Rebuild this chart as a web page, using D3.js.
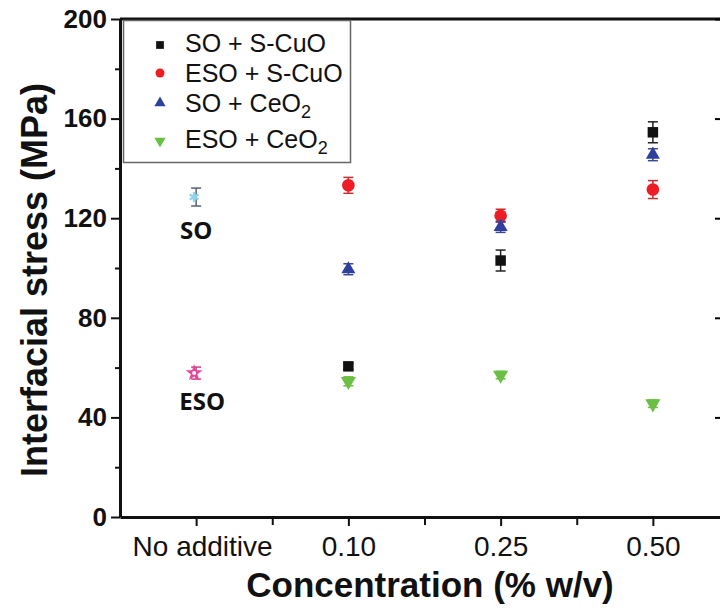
<!DOCTYPE html>
<html>
<head>
<meta charset="utf-8">
<script src="https://cdn.jsdelivr.net/npm/d3@7"></script>
<style>
    body { margin: 0; background: #fff; }
    text { fill: #111; }
</style>
</head>
<body>
<div id="stress"></div>
<script>
// categories on the x axis (positions 1..4)
const categories = ["No additive", "0.10", "0.25", "0.50"];
const yMajorTicks = [0, 40, 80, 120, 160, 200];
const yMinorTicks = [20, 60, 100, 140, 180];

// additive series, one value per concentration 0.10 / 0.25 / 0.50
const soCuOValues = [60.5, 103, 154.5];
const soCuOErrors = [1.2, 4.2, 4.2];
const esoCuOValues = [133.2, 121, 131.5];
const esoCuOErrors = [3.2, 2.6, 3.6];
const soCeO2Values = [99.5, 116.5, 145.5];
const soCeO2Errors = [2.2, 2.2, 2.4];
const esoCeO2Values = [54.5, 57, 45.5];
const esoCeO2Errors = [1.8, 1.5, 1.5];

// base oils without additive
const baseNames = ["SO", "ESO"];
const baseValues = [128.5, 57.8];
const baseErrors = [3.6, 2.4];

const stressWidth = 720;
const stressHeight = 608;
const stressMargin = {top: 19, left: 120, bottom: 91, right: -9};

const stressClipWidth = stressWidth - stressMargin.left - stressMargin.right;
const stressClipHeight = stressHeight - stressMargin.top - stressMargin.bottom;

const svg = d3.select("#stress").append("svg")
    .attr("width", stressWidth)
    .attr("height", stressHeight)
    .style("display", "block");

const stressSvg = svg.append('g')
    .attr("transform", "translate(" + stressMargin.left + "," + stressMargin.top + ")");

let xScale = d3.scaleLinear()
    .domain([0.5, 4.5])
    .range([0, stressClipWidth]);

let yScale = d3.scaleLinear()
    .domain([0, 200])
    .range([stressClipHeight, 0]);

// top frame line
stressSvg.append("line")
    .attr("x1", 0).attr("x2", stressClipWidth)
    .attr("y1", 0).attr("y2", 0)
    .attr("stroke", "#111")
    .attr("stroke-width", 3);

// right axis, ticks pointing inward
let rightAxis = stressSvg.append('g')
    .attr("transform", "translate(" + stressClipWidth + ",0)")
    .call(d3.axisRight(yScale).tickValues(yMajorTicks).tickSize(-14).tickSizeOuter(0).tickFormat(""));
rightAxis.select(".domain").attr("stroke-width", 3);
rightAxis.selectAll(".tick line").attr("stroke-width", 2);

// left axis
let yAxis = stressSvg.append('g')
    .attr("class", 'axis_y')
    .call(d3.axisLeft(yScale).tickValues(yMajorTicks).tickSize(9).tickSizeOuter(0).tickPadding(4));
yAxis.select(".domain").attr("stroke-width", 3).attr("stroke", "#111");
yAxis.selectAll(".tick line").attr("stroke-width", 2).attr("stroke", "#111");
yAxis.selectAll(".tick text")
    .attr("font-family", "Liberation Sans, Arial, sans-serif")
    .attr("font-size", 26)
    .attr("font-weight", "bold")
    .attr("fill", "#111");

let yMinor = stressSvg.append('g')
    .call(d3.axisLeft(yScale).tickValues(yMinorTicks).tickSize(5).tickFormat(""));
yMinor.select(".domain").remove();
yMinor.selectAll(".tick line").attr("stroke-width", 2).attr("stroke", "#111");

// bottom axis
let xAxis = stressSvg.append('g')
    .attr("class", 'axis_x')
    .attr("transform", "translate(0," + stressClipHeight + ")")
    .call(d3.axisBottom(xScale).tickValues([1, 2, 3, 4]).tickSize(9).tickSizeOuter(0).tickPadding(10)
        .tickFormat(d => categories[d - 1]));
xAxis.select(".domain").attr("stroke-width", 3).attr("stroke", "#111");
xAxis.selectAll(".tick line").attr("stroke-width", 2).attr("stroke", "#111");
xAxis.selectAll(".tick text")
    .attr("font-family", "Liberation Sans, Arial, sans-serif")
    .attr("font-size", 28)
    .attr("fill", "#111")
    .attr("dx", (d, i) => i === 0 ? 6 : 0);

let xMinor = stressSvg.append('g')
    .attr("transform", "translate(0," + stressClipHeight + ")")
    .call(d3.axisBottom(xScale).tickValues([1.5, 2.5, 3.5]).tickSize(8).tickFormat(""));
xMinor.select(".domain").remove();
xMinor.selectAll(".tick line").attr("stroke-width", 2).attr("stroke", "#111");

// axis titles
svg.append("text")
    .attr("transform", "translate(47," + (stressMargin.top + stressClipHeight / 2 + 12) + ") rotate(-90)")
    .attr("text-anchor", "middle")
    .attr("font-family", "Liberation Sans, Arial, sans-serif")
    .attr("font-size", 36)
    .attr("font-weight", "bold")
    .text("Interfacial stress (MPa)");

svg.append("text")
    .attr("x", 430)
    .attr("y", 597)
    .attr("text-anchor", "middle")
    .attr("font-family", "Liberation Sans, Arial, sans-serif")
    .attr("font-size", 35)
    .attr("font-weight", "bold")
    .text("Concentration (% w/v)");

// series definitions
const series = [
    {name: "SO + S-CuO", values: soCuOValues, errors: soCuOErrors, symbol: d3.symbolSquare, size: 110, legendSize: 60, rotate: 0, fill: "#111", bar: "#222"},
    {name: "ESO + S-CuO", values: esoCuOValues, errors: esoCuOErrors, symbol: d3.symbolCircle, size: 125, legendSize: 64, rotate: 0, fill: "#ee1c25", bar: "#c03030"},
    {name: "SO + CeO", sub: "2", values: soCeO2Values, errors: soCeO2Errors, symbol: d3.symbolTriangle, size: 85, legendSize: 55, rotate: 0, fill: "#2e3f9e", bar: "#3a4a90"},
    {name: "ESO + CeO", sub: "2", values: esoCeO2Values, errors: esoCeO2Errors, symbol: d3.symbolTriangle, size: 100, legendSize: 55, rotate: 180, fill: "#6cbf45", bar: "#6cbf45"}
];

function drawErrorBars(g, points, color, cap) {
    let bars = g.selectAll("g.err")
        .data(points)
        .enter()
        .append("g")
        .attr("class", "err")
        .attr("stroke", color)
        .attr("stroke-width", 1.5);
    bars.append("line")
        .attr("x1", d => xScale(d.x)).attr("x2", d => xScale(d.x))
        .attr("y1", d => yScale(d.y + d.e)).attr("y2", d => yScale(d.y - d.e));
    bars.append("line")
        .attr("x1", d => xScale(d.x) - cap).attr("x2", d => xScale(d.x) + cap)
        .attr("y1", d => yScale(d.y + d.e)).attr("y2", d => yScale(d.y + d.e));
    bars.append("line")
        .attr("x1", d => xScale(d.x) - cap).attr("x2", d => xScale(d.x) + cap)
        .attr("y1", d => yScale(d.y - d.e)).attr("y2", d => yScale(d.y - d.e));
}

let points_g = stressSvg.append('g').attr("class", 'points_g');

series.forEach(function (s) {
    let pts = s.values.map((v, i) => ({x: i + 2, y: v, e: s.errors[i]}));
    let g = points_g.append("g");
    drawErrorBars(g, pts, s.bar, 5);
    g.selectAll("path.mark")
        .data(pts)
        .enter()
        .append("path")
        .attr("class", "mark")
        .attr("d", d3.symbol().type(s.symbol).size(s.size))
        .attr("transform", d => "translate(" + xScale(d.x) + "," + yScale(d.y) + ") rotate(" + s.rotate + ")")
        .attr("fill", s.fill);
});

// base oils: SO (light blue asterisk) and ESO (pink hollow star)
let base_g = stressSvg.append('g').attr("class", 'base_g');
let basePts = baseValues.map((v, i) => ({x: 1, y: v, e: baseErrors[i], name: baseNames[i]}));

drawErrorBars(base_g.append("g"), [basePts[0]], "#556070", 5);
drawErrorBars(base_g.append("g"), [basePts[1]], "#d0407f", 5);

base_g.append("path")
    .attr("d", d3.symbol().type(d3.symbolAsterisk).size(70))
    .attr("transform", "translate(" + (xScale(1) - 2) + "," + yScale(basePts[0].y) + ")")
    .attr("fill", "none")
    .attr("stroke", "#8fd3ec")
    .attr("stroke-width", 2.5);

base_g.append("path")
    .attr("d", d3.symbol().type(d3.symbolStar).size(90))
    .attr("transform", "translate(" + (xScale(1) - 2) + "," + yScale(basePts[1].y) + ")")
    .attr("fill", "#e8449a");
base_g.append("circle")
    .attr("cx", xScale(1) - 2)
    .attr("cy", yScale(basePts[1].y))
    .attr("r", 2)
    .attr("fill", "#fff");

base_g.selectAll("text.base")
    .data(basePts)
    .enter()
    .append("text")
    .attr("class", "base")
    .attr("x", (d, i) => xScale(1) + (i === 0 ? 0 : 6))
    .attr("y", (d, i) => i === 0 ? yScale(d.y) + 42 : yScale(d.y) + 37)
    .attr("text-anchor", "middle")
    .attr("font-family", "Open Sans, Noto Sans, sans-serif")
    .attr("font-size", 24)
    .attr("font-weight", "bold")
    .text(d => d.name);

// legend
let legend = svg.append("g").attr("class", "legend");
legend.append("rect")
    .attr("x", 123.5).attr("y", 20.5)
    .attr("width", 227).attr("height", 142)
    .attr("fill", "#fff")
    .attr("stroke", "#666")
    .attr("stroke-width", 1.5);

const legendMarkY = [45, 73, 103, 141];
const legendTextY = [52, 82, 112, 148];

series.forEach(function (s, i) {
    legend.append("path")
        .attr("d", d3.symbol().type(s.symbol).size(s.legendSize))
        .attr("transform", "translate(160," + legendMarkY[i] + ") rotate(" + s.rotate + ")")
        .attr("fill", s.fill);
    let t = legend.append("text")
        .attr("x", 185)
        .attr("y", legendTextY[i])
        .attr("font-family", "Liberation Sans, Arial, sans-serif")
        .attr("font-size", 25)
        .text(s.name);
    if (s.sub) {
        t.append("tspan")
            .attr("dy", 6)
            .attr("font-size", 18)
            .text(s.sub);
    }
});
</script>
</body>
</html>
